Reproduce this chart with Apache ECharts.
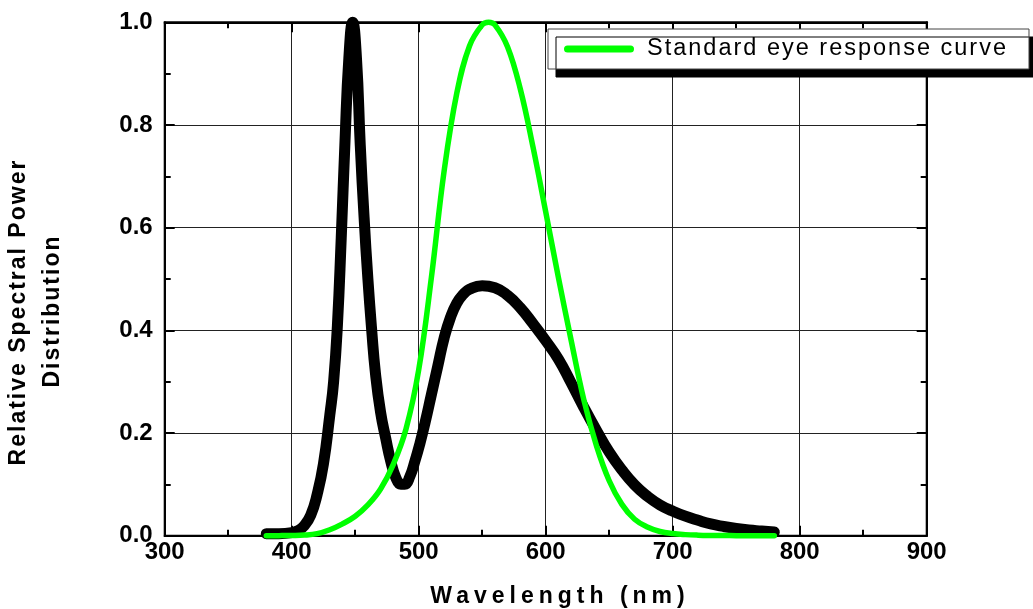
<!DOCTYPE html>
<html>
<head>
<meta charset="utf-8">
<script src="https://cdn.jsdelivr.net/npm/echarts@6/dist/echarts.min.js"></script>
<style>
html,body{margin:0;padding:0;background:#fff;}
#chart{width:1033px;height:609px;}
</style>
</head>
<body>
<div id="chart"></div>
<script>
// ---- data ----
const ledWavelengths = [380,390,400,405,410,415,420,425,430,433,436,439,442,445,448,451,454,457,460,463,466,470,474,478,482,486,489,493,497,501,505,510,515,520,525,530,535,540,550,560,570,580,590,600,610,620,630,640,650,660,670,680,690,700,710,720,730,740,750,760,770,780];
const ledValues = [0.004,0.004,0.006,0.01,0.02,0.04,0.08,0.14,0.235,0.3,0.41,0.58,0.77,0.93,1.0,0.93,0.76,0.62,0.5,0.4,0.315,0.24,0.19,0.145,0.113,0.1,0.1,0.115,0.145,0.18,0.22,0.275,0.33,0.385,0.425,0.453,0.47,0.48,0.487,0.483,0.468,0.444,0.413,0.38,0.344,0.298,0.25,0.205,0.163,0.128,0.099,0.077,0.06,0.048,0.038,0.03,0.023,0.018,0.014,0.011,0.009,0.007];
const eyeWavelengths = [380,390,400,410,420,430,440,450,460,470,480,490,500,510,520,530,540,550,555,560,570,580,590,600,610,620,630,640,650,660,670,680,690,700,710,720,730,740,750,760,770,780];
const eyeValues = [0.00004,0.00012,0.0004,0.0012,0.004,0.0116,0.023,0.038,0.06,0.091,0.139,0.208,0.323,0.503,0.71,0.862,0.954,0.995,1.0,0.995,0.952,0.87,0.757,0.631,0.503,0.381,0.265,0.175,0.107,0.061,0.032,0.017,0.0082,0.0041,0.0021,0.00105,0.00052,0.00025,0.00012,0.00006,0.00003,0.000015];
const eyeSeriesName = 'Standard eye response curve';
const xTitle = 'Wavelength (nm)';
const yTitleLine1 = 'Relative Spectral Power';
const yTitleLine2 = 'Distribution';

const FONT = '"Liberation Sans", Arial, Helvetica, sans-serif';
const pair = (xs, ys) => xs.map((x, i) => [x, ys[i]]);

const tickCommon = {
  axisLine: { show: true, onZero: false, lineStyle: { color: '#000', width: 2 } },
  axisTick: { show: true, inside: true, length: 10, lineStyle: { color: '#000', width: 2 } },
  minorTick: { show: true, splitNumber: 2, length: 6, lineStyle: { color: '#000', width: 2 } }
};

const option = {
  animation: false,
  backgroundColor: '#fff',
  grid: { left: 164.7, right: 106.3, top: 22.3, bottom: 73.3, show: true, borderColor: '#000', borderWidth: 2, containLabel: false },
  xAxis: [
    Object.assign({
      type: 'value', min: 300, max: 900, interval: 100, position: 'bottom',
      splitLine: { show: true, lineStyle: { color: '#222', width: 1 } },
      axisLabel: { show: true, margin: 5, color: '#000', fontSize: 24, fontWeight: 'bold', fontFamily: FONT }
    }, tickCommon),
    Object.assign({
      type: 'value', min: 300, max: 900, interval: 100, position: 'top',
      splitLine: { show: false }, axisLabel: { show: false }
    }, tickCommon)
  ],
  yAxis: [
    Object.assign({
      type: 'value', min: 0, max: 1, interval: 0.2, position: 'left',
      splitLine: { show: true, lineStyle: { color: '#222', width: 1 } },
      axisLabel: { show: true, margin: 12, color: '#000', fontSize: 24, fontWeight: 'bold', fontFamily: FONT,
        formatter: v => v.toFixed(1) }
    }, tickCommon),
    Object.assign({
      type: 'value', min: 0, max: 1, interval: 0.2, position: 'right',
      splitLine: { show: false }, axisLabel: { show: false }
    }, tickCommon)
  ],
  legend: {
    data: [eyeSeriesName],
    zlevel: 2,
    left: 548, top: 29,
    orient: 'horizontal',
    padding: [8, 75, 8, 16],
    itemWidth: 70, itemHeight: 7,
    icon: 'path://M3.5,0 L66.5,0 A3.5,3.5 0 0 1 66.5,7 L3.5,7 A3.5,3.5 0 0 1 3.5,0 Z',
    itemStyle: { color: '#00ff00', borderWidth: 0 },
    backgroundColor: '#fff',
    borderColor: '#444', borderWidth: 1,
    shadowColor: '#000', shadowBlur: 0, shadowOffsetX: 8, shadowOffsetY: 8,
    textStyle: { fontSize: 23.5, color: '#000', fontFamily: FONT, padding: [0, 0, 0, 8] },
    selectedMode: false
  },
  graphic: [
    { type: 'text', zlevel: 1, x: 560, y: 597,
      style: { text: xTitle, fill: '#000', fontSize: 23, fontWeight: 'bold', fontFamily: FONT, align: 'center', verticalAlign: 'middle' } },
    { type: 'text', zlevel: 2, x: 19, y: 312, rotation: Math.PI / 2,
      style: { text: yTitleLine1, fill: '#000', fontSize: 23, fontWeight: 'bold', fontFamily: FONT, align: 'center', verticalAlign: 'middle' } },
    { type: 'text', zlevel: 2, x: 53, y: 311, rotation: Math.PI / 2,
      style: { text: yTitleLine2, fill: '#000', fontSize: 23, fontWeight: 'bold', fontFamily: FONT, align: 'center', verticalAlign: 'middle' } }
  ],
  series: [
    {
      name: 'LED spectrum', type: 'line', data: pair(ledWavelengths, ledValues),
      showSymbol: false, symbol: 'none', smooth: 0.5, clip: false,
      lineStyle: { color: '#000', width: 11, cap: 'round', join: 'round' }, z: 3
    },
    {
      name: eyeSeriesName, type: 'line', data: pair(eyeWavelengths, eyeValues),
      showSymbol: false, symbol: 'none', smooth: 0.4, clip: false,
      itemStyle: { color: '#00ff00' },
      lineStyle: { color: '#00ff00', width: 5.5, cap: 'round', join: 'round' }, z: 4
    }
  ]
};

const chart = echarts.init(document.getElementById('chart'), null, { renderer: 'canvas' });
chart.setOption(option);

// original typesetting uses tracked (letter-spaced) titles
function setSpacing(z, px) {
  try {
    const layer = chart.getZr().painter.getLayer(z);
    if (layer && layer.ctx && 'letterSpacing' in layer.ctx) layer.ctx.letterSpacing = px + 'px';
  } catch (e) {}
}
setSpacing(1, 5);
setSpacing(2, 2);
try { chart.getZr().painter.refresh(true); } catch (e) {}
</script>
</body>
</html>
